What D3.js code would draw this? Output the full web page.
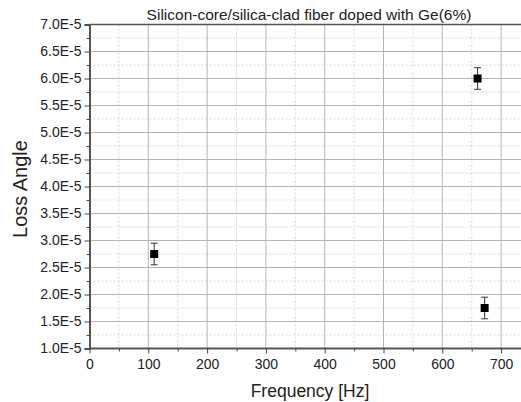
<!DOCTYPE html>
<html>
<head>
<meta charset="utf-8">
<script src="https://cdn.jsdelivr.net/npm/d3@7"></script>
<style>
  body { margin: 0; background: #fff; }
  text { font-family: "Liberation Sans", Arial, sans-serif; fill: #222; }
</style>
</head>
<body>
<div id="chart"></div>
<script>
// data
const freq = [110, 660, 672];
const lossAngle = [2.75e-5, 6.0e-5, 1.75e-5];
const lossErr = [0.2e-5, 0.2e-5, 0.2e-5];
const xTicks = [0, 100, 200, 300, 400, 500, 600, 700];
const yTicks = [1.0e-5, 1.5e-5, 2.0e-5, 2.5e-5, 3.0e-5, 3.5e-5, 4.0e-5, 4.5e-5, 5.0e-5, 5.5e-5, 6.0e-5, 6.5e-5, 7.0e-5];

const w = 521, h = 402;
const margin = {top: 24.5, right: 0, bottom: 53.5, left: 89.5};

const svg = d3.select("#chart").append("svg")
  .attr("width", w)
  .attr("height", h);

const x = d3.scaleLinear().domain([0, 735]).range([margin.left, margin.left + 58.8 * 7.35]);
const y = d3.scaleLinear().domain([1.0e-5, 7.0e-5]).range([h - margin.bottom, margin.top]);

const xMinor = d3.range(50, 735, 100);
const yMinor = d3.range(1.25e-5, 7.0e-5, 0.5e-5);

// grid
const grid = svg.append("g");
grid.selectAll(".gxm").data(xMinor).enter().append("line")
  .attr("x1", d => x(d)).attr("x2", d => x(d))
  .attr("y1", y(7e-5)).attr("y2", y(1e-5))
  .attr("stroke", "#d6d6d6").attr("stroke-dasharray", "2,2");
grid.selectAll(".gym").data(yMinor).enter().append("line")
  .attr("x1", x(0)).attr("x2", w)
  .attr("y1", d => y(d)).attr("y2", d => y(d))
  .attr("stroke", "#d6d6d6").attr("stroke-dasharray", "2,2");
grid.selectAll(".gx").data(xTicks.slice(1)).enter().append("line")
  .attr("x1", d => x(d)).attr("x2", d => x(d))
  .attr("y1", y(7e-5)).attr("y2", y(1e-5))
  .attr("stroke", "#b4b4b4");
grid.selectAll(".gy").data(yTicks.slice(1)).enter().append("line")
  .attr("x1", x(0)).attr("x2", w)
  .attr("y1", d => y(d)).attr("y2", d => y(d))
  .attr("stroke", "#b4b4b4");

// top frame line
svg.append("line")
  .attr("x1", x(0)).attr("x2", w)
  .attr("y1", y(7e-5)).attr("y2", y(7e-5))
  .attr("stroke", "#555").attr("stroke-width", 1.5);

// axes
const xAxis = svg.append("g")
  .attr("transform", "translate(0," + y(1e-5) + ")")
  .call(d3.axisBottom(x).tickValues(xTicks).tickSize(5).tickPadding(6).tickFormat(d3.format("d")));
svg.append("g")
  .attr("transform", "translate(0," + y(1e-5) + ")")
  .call(d3.axisBottom(x).tickValues(xMinor).tickSize(3).tickFormat(""))
  .select(".domain").remove();

const yAxis = svg.append("g")
  .attr("transform", "translate(" + x(0) + ",0)")
  .call(d3.axisLeft(y).tickValues(yTicks).tickSize(5).tickPadding(3)
    .tickFormat(d => (d * 1e5).toFixed(1) + "E-5"));
svg.append("g")
  .attr("transform", "translate(" + x(0) + ",0)")
  .call(d3.axisLeft(y).tickValues(yMinor).tickSize(3).tickFormat(""))
  .select(".domain").remove();

svg.selectAll(".domain").attr("stroke", "#555").attr("stroke-width", 2);
svg.selectAll(".tick line").attr("stroke", "#444");
svg.selectAll(".tick text").style("font-size", "14px").attr("fill", "#222");
xAxis.select(".domain").attr("d", "M" + x(0) + ",0H" + w);

// error bars + markers
const pts = freq.map((f, i) => ({f: f, v: lossAngle[i], e: lossErr[i]}));
const eb = svg.append("g").attr("stroke", "#333").attr("stroke-width", 1);
eb.selectAll(".ev").data(pts).enter().append("line")
  .attr("x1", d => x(d.f)).attr("x2", d => x(d.f))
  .attr("y1", d => y(d.v + d.e)).attr("y2", d => y(d.v - d.e));
eb.selectAll(".et").data(pts).enter().append("line")
  .attr("x1", d => x(d.f) - 3.5).attr("x2", d => x(d.f) + 3.5)
  .attr("y1", d => y(d.v + d.e)).attr("y2", d => y(d.v + d.e));
eb.selectAll(".eb").data(pts).enter().append("line")
  .attr("x1", d => x(d.f) - 3.5).attr("x2", d => x(d.f) + 3.5)
  .attr("y1", d => y(d.v - d.e)).attr("y2", d => y(d.v - d.e));
svg.selectAll(".pt").data(pts).enter().append("rect")
  .attr("x", d => x(d.f) - 4).attr("y", d => y(d.v) - 4)
  .attr("width", 8).attr("height", 8)
  .attr("fill", "#000");

// titles
svg.append("text")
  .attr("x", 309).attr("y", 20)
  .attr("text-anchor", "middle")
  .style("font-size", "15.5px")
  .text("Silicon-core/silica-clad fiber doped with Ge(6%)");
svg.append("text")
  .attr("x", 310).attr("y", 397)
  .attr("text-anchor", "middle")
  .style("font-size", "17.5px")
  .text("Frequency [Hz]");
svg.append("text")
  .attr("transform", "translate(27,189) rotate(-90)")
  .attr("text-anchor", "middle")
  .style("font-size", "20px")
  .text("Loss Angle");
</script>
</body>
</html>
